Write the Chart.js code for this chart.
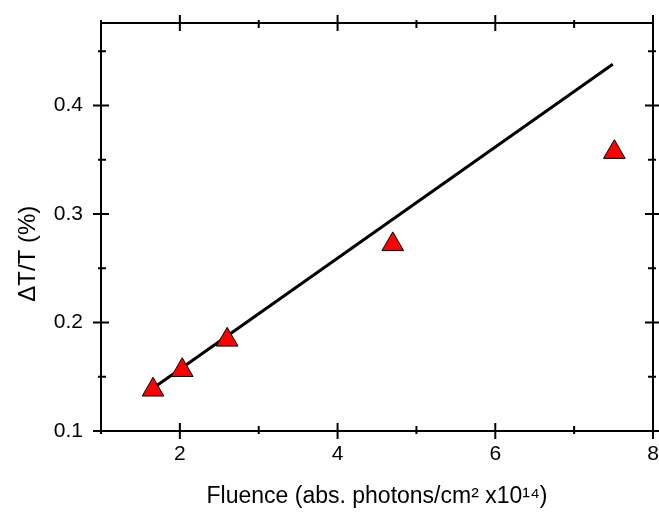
<!DOCTYPE html>
<html>
<head>
<meta charset="utf-8">
<script src="https://cdn.jsdelivr.net/npm/chart.js@4/dist/chart.umd.min.js"></script>
<style>
html,body{margin:0;padding:0;background:#fff;}
#wrap{width:659px;height:518px;position:relative;}
</style>
</head>
<body>
<div id="wrap"><canvas id="c" width="659" height="518"></canvas></div>
<script>
// Data
const fluence = [1.66, 2.03, 2.60, 4.70, 7.51];
const deltaT = [0.138, 0.156, 0.184, 0.272, 0.357];
const fitX = [1.65, 7.49];
const fitY = [0.139, 0.438];
const xMajorTicks = [2, 4, 6, 8];
const xMinorTicks = [1, 3, 5, 7];
const yMajorTicks = [0.1, 0.2, 0.3, 0.4];
const yMinorTicks = [0.15, 0.25, 0.35, 0.45];
const xRange = [1, 8];
const yRange = [0.1, 0.476];
const xTitle = 'Fluence (abs. photons/cm\u00B2 x10\u00B9\u2074)';
const yTitle = '\u0394T/T (%)';

const FONT = "'Liberation Sans', Arial, sans-serif";

const framePlugin = {
  id: 'frame',
  afterDraw(chart) {
    const {ctx, chartArea: a, scales} = chart;
    const xs = scales.x, ys = scales.y;
    ctx.save();
    ctx.strokeStyle = '#000';
    ctx.lineWidth = 2;
    ctx.strokeRect(a.left, a.top, a.right - a.left, a.bottom - a.top);
    ctx.beginPath();
    const MAJ_OUT = 8, MAJ_IN = 8, MIN_OUT = 3, MIN_IN = 5;
    function xt(v, out, inn) {
      const p = xs.getPixelForValue(v);
      ctx.moveTo(p, a.bottom + out); ctx.lineTo(p, a.bottom - inn);
      ctx.moveTo(p, a.top - out); ctx.lineTo(p, a.top + inn);
    }
    function yt(v, out, inn) {
      const p = ys.getPixelForValue(v);
      ctx.moveTo(a.left - out, p); ctx.lineTo(a.left + inn, p);
      ctx.moveTo(a.right + out, p); ctx.lineTo(a.right - inn, p);
    }
    xMajorTicks.forEach(v => xt(v, MAJ_OUT, MAJ_IN));
    xMinorTicks.forEach(v => xt(v, MIN_OUT, MIN_IN));
    yMajorTicks.forEach(v => yt(v, MAJ_OUT, MAJ_IN));
    yMinorTicks.forEach(v => yt(v, MIN_OUT, MIN_IN));
    ctx.stroke();
    ctx.restore();
  }
};

new Chart(document.getElementById('c'), {
  type: 'scatter',
  data: {
    datasets: [
      {
        label: 'data',
        data: fluence.map((x, i) => ({x: x, y: deltaT[i]})),
        pointStyle: 'triangle',
        pointRadius: 12.5,
        pointHoverRadius: 12.5,
        backgroundColor: '#ff0000',
        borderColor: '#000000',
        borderWidth: 1,
        order: 0
      },
      {
        label: 'fit',
        data: fitX.map((x, i) => ({x: x, y: fitY[i]})),
        showLine: true,
        pointRadius: 0,
        borderColor: '#000000',
        borderWidth: 3,
        fill: false,
        order: 1
      }
    ]
  },
  options: {
    responsive: false,
    animation: false,
    events: [],
    layout: {autoPadding: false, padding: {top: 23, right: 6, bottom: 0, left: 0}},
    plugins: {legend: {display: false}, tooltip: {enabled: false}},
    scales: {
      x: {
        type: 'linear',
        min: xRange[0], max: xRange[1],
        afterBuildTicks: s => { s.ticks = xMajorTicks.map(v => ({value: v})); },
        afterFit: s => { s.height = 87; s.paddingLeft = 0; s.paddingRight = 0; },
        grid: {display: false, drawTicks: false},
        border: {display: false},
        ticks: {color: '#000', padding: 11, font: {family: FONT, size: 21}, maxRotation: 0},
        title: {display: true, text: xTitle, color: '#000', font: {family: FONT, size: 23}, padding: {top: 0, bottom: 8}}
      },
      y: {
        type: 'linear',
        min: yRange[0], max: yRange[1],
        afterBuildTicks: s => { s.ticks = yMajorTicks.map(v => ({value: v})); },
        afterFit: s => { s.width = 101; s.paddingTop = 0; s.paddingBottom = 0; },
        grid: {display: false, drawTicks: false},
        border: {display: false},
        ticks: {color: '#000', padding: 18, font: {family: FONT, size: 21}, callback: v => v.toFixed(1)},
        title: {display: true, text: yTitle + '        ', color: '#000', font: {family: FONT, size: 24}, padding: {top: 14, bottom: 0}}
      }
    }
  },
  plugins: [framePlugin]
});
</script>
</body>
</html>
